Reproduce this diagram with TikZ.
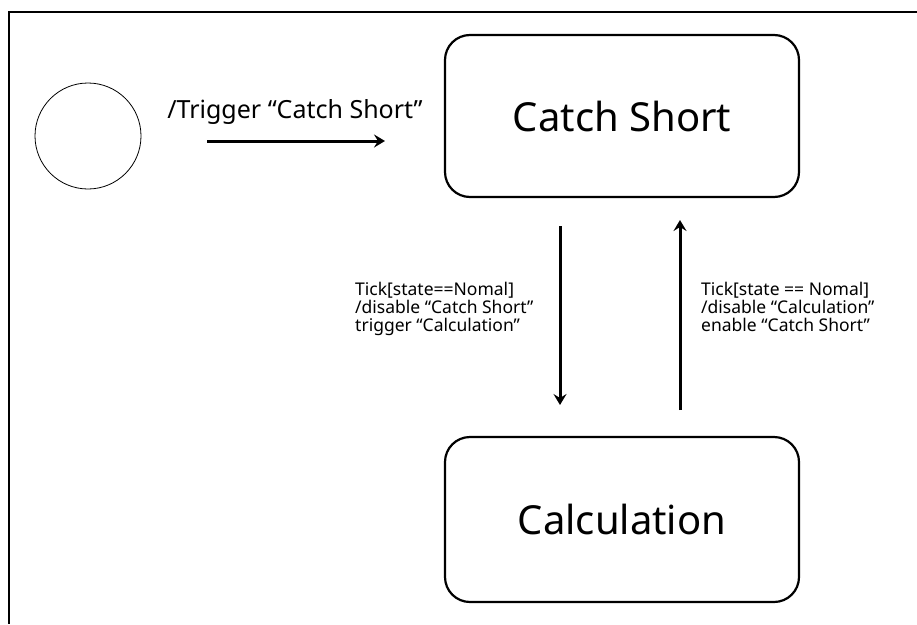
\documentclass[tikz,border=0pt]{standalone}
\usepackage{fontspec}
\setmainfont{Noto Sans}
\usetikzlibrary{arrows.meta}
\begin{document}
\begin{tikzpicture}[x=1pt,y=-1pt,
  statebox/.style={draw,line width=2.2pt,rounded corners=25pt,minimum width=354pt,inner sep=0pt,font=\fontsize{40}{44}\selectfont},
  trans/.style={line width=3pt,-{Stealth[length=11pt,width=13pt,inset=4pt]}},
  lbl/.style={inner sep=0pt,align=left,anchor=north west,font=\fontsize{17.5}{17.8}\selectfont}]
\useasboundingbox (0,0) rectangle (917,624);
% outer frame (partly visible)
\draw[line width=1.5pt] (917,12) -- (9,12) -- (9,624);
% initial state
\node[draw,circle,line width=0.8pt,minimum size=106pt,inner sep=0pt] (init) at (88,136) {};
% states
\node[statebox,minimum height=162pt] (cs) at (622,116) {Catch Short};
\node[statebox,minimum height=165pt] (calc) at (622,519.5) {Calculation};
% initial transition
\coordinate (i1) at (207,141);
\coordinate (i2) at (385,141);
\draw[trans] (i1) -- (i2);
\node[inner sep=0pt,anchor=base,font=\fontsize{25}{30}\selectfont] (tlbl) at (295,118) {/Trigger “Catch Short”};
% down transition
\coordinate (d1) at (560,226);
\coordinate (d2) at (560,405);
\draw[trans] (d1) -- (d2);
\node[lbl] (dlbl) at (355,282) {Tick[state==Nomal]\\/disable “Catch Short”\\trigger “Calculation”};
% up transition
\coordinate (u1) at (680,410);
\coordinate (u2) at (680,220);
\draw[trans] (u1) -- (u2);
\node[lbl] (ulbl) at (701,282) {Tick[state == Nomal]\\/disable “Calculation”\\enable “Catch Short”};
\end{tikzpicture}
\end{document}
